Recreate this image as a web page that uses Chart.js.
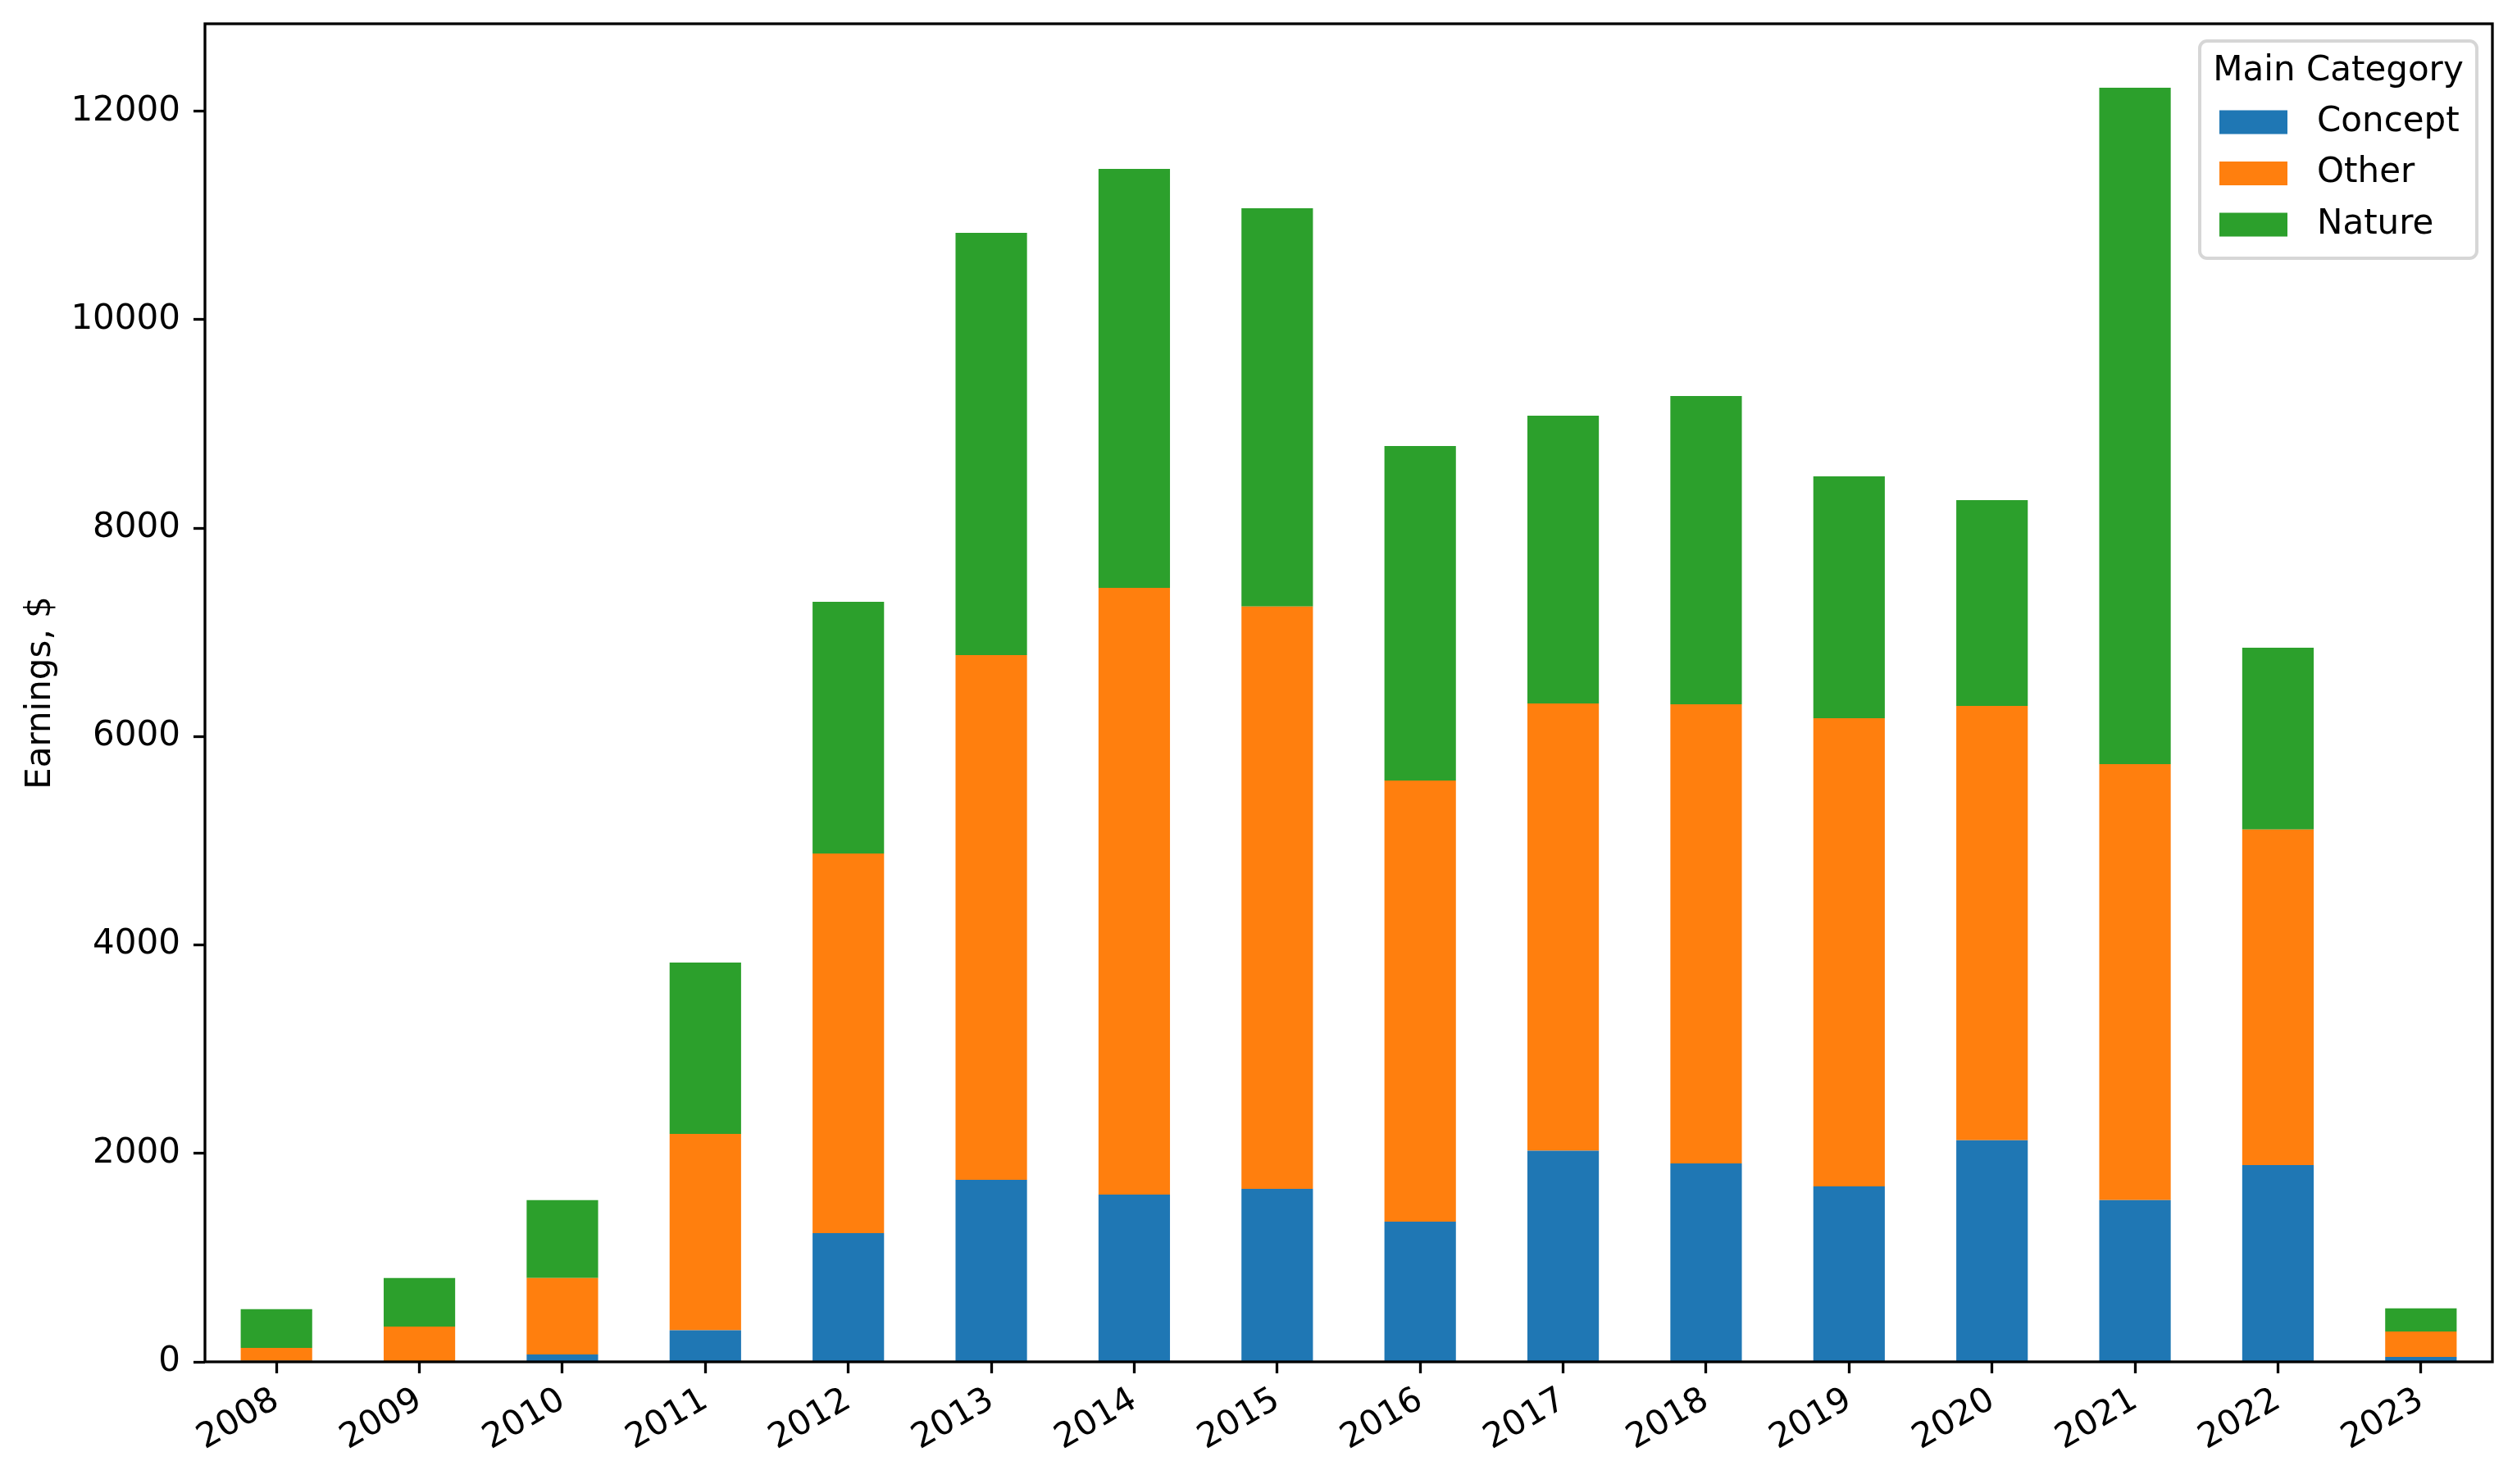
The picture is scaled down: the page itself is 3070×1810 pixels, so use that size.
<!DOCTYPE html>
<html>
<head>
<meta charset="utf-8">
<script src="https://cdn.jsdelivr.net/npm/chart.js@4.4.1/dist/chart.umd.min.js"></script>
<style>
  html, body { margin: 0; padding: 0; background: #fff; }
  #wrap { width: 3070px; height: 1810px; }
</style>
</head>
<body>
<div id="wrap"><canvas id="chart" width="3070" height="1810"></canvas></div>
<script>
// data
const years = ['2008', '2009', '2010', '2011', '2012', '2013', '2014', '2015',
               '2016', '2017', '2018', '2019', '2020', '2021', '2022', '2023'];
const concept = [10, 0, 71, 302, 1235, 1747, 1605, 1660, 1345, 2025, 1904, 1684, 2127, 1552, 1888, 47];
const other   = [124, 339, 734, 1885, 3643, 5035, 5822, 5589, 4233, 4293, 4406, 4492, 4167, 4184, 3221, 245];
const nature  = [371, 466, 747, 1645, 2416, 4052, 4021, 3821, 3211, 2762, 2958, 2321, 1975, 6491, 1744, 221];
const yTicks  = [0, 2000, 4000, 6000, 8000, 10000, 12000];
const yMax = 12840;

const FONT = 'DejaVu Sans';
const FS = 42;
const LW = 3.3;

// matplotlib-like legend drawn on the canvas, plus the full axes frame
const frameAndLegend = {
  id: 'frameAndLegend',
  afterDatasetsDraw(chart) {
    const ctx = chart.ctx;
    const a = chart.chartArea;
    ctx.save();
    ctx.strokeStyle = '#000';
    ctx.lineWidth = LW;
    ctx.strokeRect(a.left, a.top, a.right - a.left, a.bottom - a.top);

    // legend box
    const bx = a.right - 19 - 338, by = a.top + 21, bw = 338, bh = 265, r = 9;
    ctx.beginPath();
    ctx.moveTo(bx + r, by);
    ctx.arcTo(bx + bw, by, bx + bw, by + bh, r);
    ctx.arcTo(bx + bw, by + bh, bx, by + bh, r);
    ctx.arcTo(bx, by + bh, bx, by, r);
    ctx.arcTo(bx, by, bx + bw, by, r);
    ctx.closePath();
    ctx.fillStyle = 'rgba(255,255,255,0.8)';
    ctx.fill();
    ctx.strokeStyle = '#d6d6d6';
    ctx.lineWidth = 4;
    ctx.stroke();

    ctx.fillStyle = '#000';
    ctx.font = FS + 'px "' + FONT + '"';
    ctx.textBaseline = 'middle';
    ctx.textAlign = 'center';
    ctx.fillText('Main Category', bx + bw / 2, by + 37);

    ctx.textAlign = 'left';
    chart.data.datasets.forEach((ds, i) => {
      const cy = by + 99 + i * 62.5;
      ctx.fillStyle = ds.backgroundColor;
      ctx.fillRect(bx + 24, cy - 14.5, 83, 29);
      ctx.fillStyle = '#000';
      ctx.fillText(ds.label, bx + 143, cy);
    });
    ctx.restore();
  }
};

const ctx = document.getElementById('chart').getContext('2d');
const chart = new Chart(ctx, {
  type: 'bar',
  data: {
    labels: years,
    datasets: [
      { label: 'Concept', data: concept, backgroundColor: '#1f77b4' },
      { label: 'Other',   data: other,   backgroundColor: '#ff7f0e' },
      { label: 'Nature',  data: nature,  backgroundColor: '#2ca02c' }
    ]
  },
  options: {
    responsive: false,
    devicePixelRatio: 1,
    animation: false,
    layout: { padding: { top: 29, right: 30, bottom: 0, left: 0 } },
    datasets: { bar: { categoryPercentage: 1.0, barPercentage: 0.5, borderWidth: 0 } },
    plugins: {
      legend: { display: false },
      tooltip: { enabled: false }
    },
    scales: {
      x: {
        stacked: true,
        offset: true,
        afterFit: s => { s.height = 149; s.paddingLeft = 0; s.paddingRight = 0; },
        grid: { display: true, offset: false, drawOnChartArea: false, drawTicks: true,
                tickLength: 14, tickWidth: LW, tickColor: '#000' },
        border: { display: false },
        ticks: { color: '#000', font: { family: FONT, size: FS },
                 minRotation: 30, maxRotation: 30, padding: 8, autoSkip: false }
      },
      y: {
        stacked: true,
        min: 0,
        max: yMax,
        afterFit: s => { s.width = 250; s.paddingTop = 0; s.paddingBottom = 0; },
        afterBuildTicks: s => { s.ticks = yTicks.map(v => ({ value: v })); },
        grid: { display: true, drawOnChartArea: false, drawTicks: true,
                tickLength: 14, tickWidth: LW, tickColor: '#000' },
        border: { display: false },
        ticks: { color: '#000', font: { family: FONT, size: FS }, padding: 16,
                 callback: v => String(v) },
        title: { display: true, text: 'Earnings, $', color: '#000',
                 font: { family: FONT, size: FS }, padding: { top: 25, bottom: 0 } }
      }
    }
  },
  plugins: [frameAndLegend]
});
</script>
</body>
</html>
